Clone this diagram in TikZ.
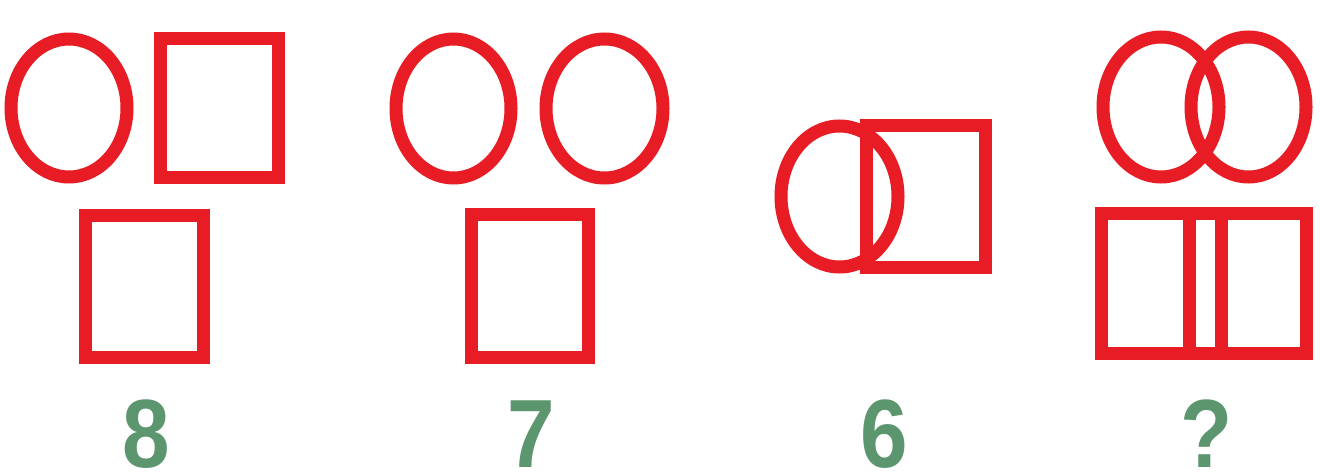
\documentclass[tikz,border=0pt]{standalone}
\usepackage{fontspec}
\setmainfont{Liberation Sans}
\definecolor{figred}{RGB}{232,28,36}
\definecolor{labgreen}{RGB}{92,150,110}
\tikzset{
  fig/.style={draw=figred, line width=13pt},
  lab/.style={text=labgreen, font=\fontsize{97}{97}\bfseries\selectfont, anchor=base, inner sep=0pt, xscale=0.88}
}
\begin{document}
\begin{tikzpicture}[x=1pt,y=-1pt]
\useasboundingbox[fill=white] (0,0) rectangle (1320,473);
% panel 1
\draw[fig] (69,108) ellipse [x radius=58, y radius=69];
\draw[fig] (160,39) rectangle (278,178);
\draw[fig] (85,216) rectangle (203,357);
\node[lab] (l8) at (146,467) {8};
% panel 2
\draw[fig] (453.5,108.5) ellipse [x radius=57.5, y radius=69.5];
\draw[fig] (604.5,108.5) ellipse [x radius=58.5, y radius=69.5];
\draw[fig] (471,215) rectangle (588,357);
\node[lab] (l7) at (531,467) {7};
% panel 3
\draw[fig] (839.5,196.5) ellipse [x radius=58.5, y radius=70.5];
\draw[fig] (866,126) rectangle (985,267);
\node[lab] (l6) at (884,467) {6};
% panel 4
\draw[fig] (1161,107) ellipse [x radius=58, y radius=70];
\draw[fig] (1248.5,107) ellipse [x radius=57.5, y radius=70];
\draw[fig] (1101,214) rectangle (1306,353);
\draw[fig] (1189,214) -- (1189,353);
\draw[fig] (1221,214) -- (1221,353);
\node[lab] (lq) at (1207,467) {?};
\end{tikzpicture}
\end{document}
